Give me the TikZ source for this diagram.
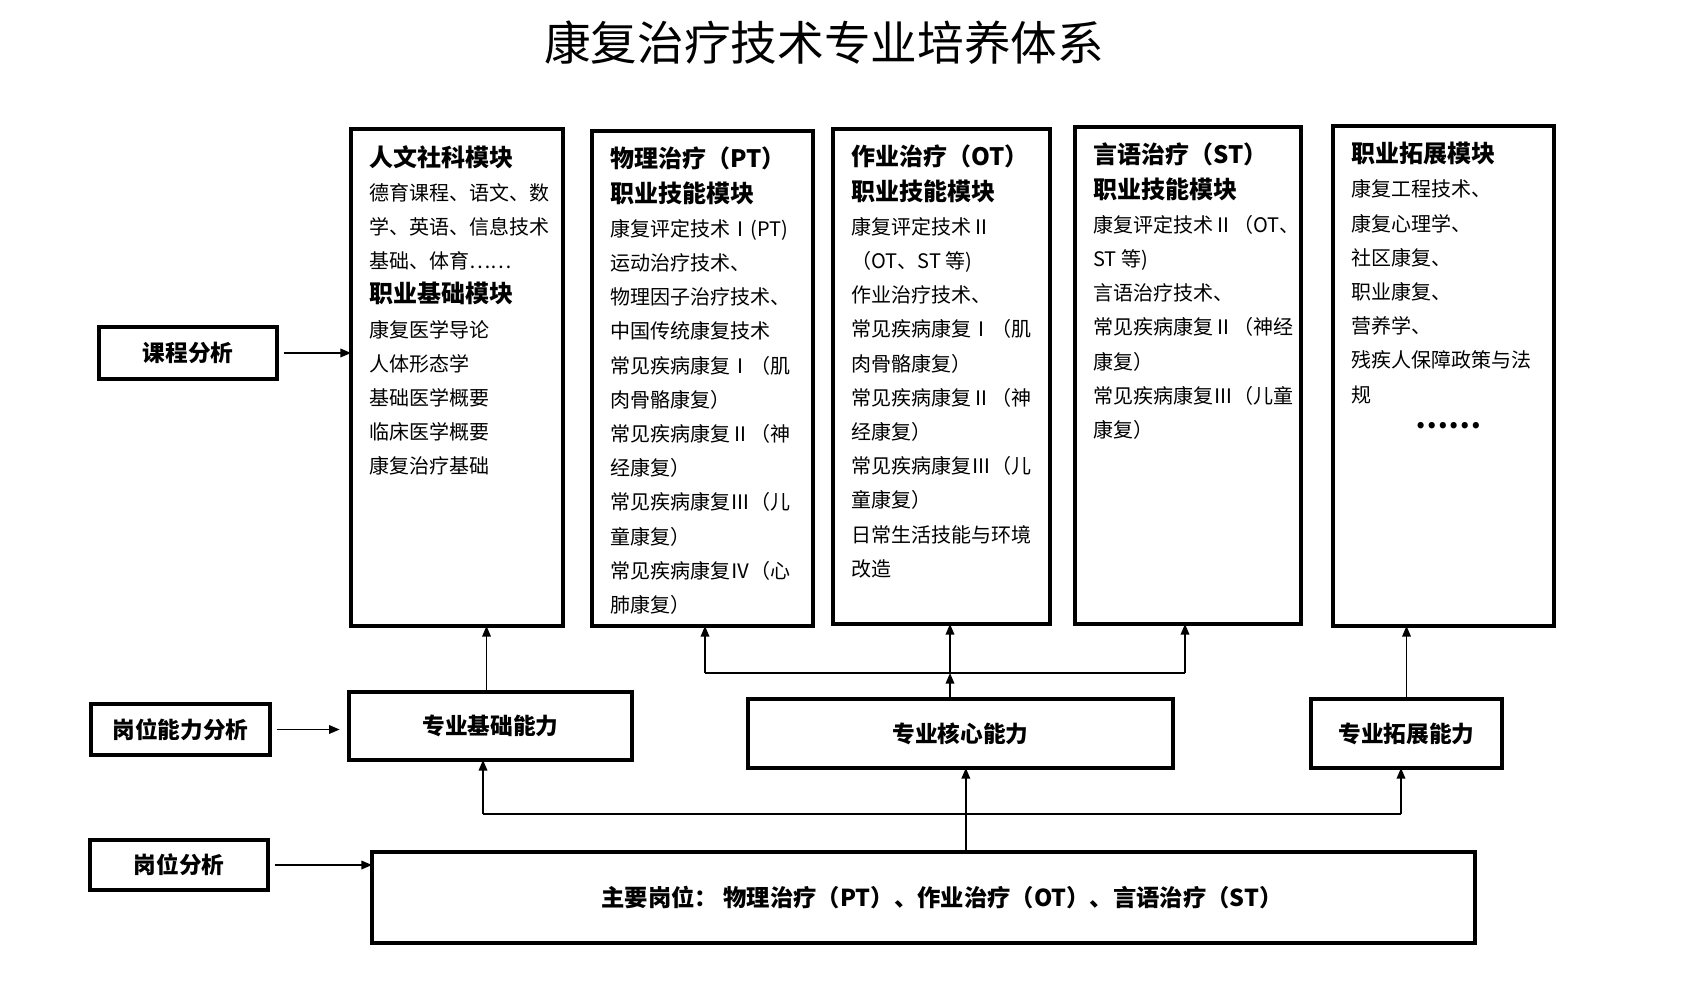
\documentclass[tikz,border=0pt]{standalone}
\usepackage{fontspec}
\setmainfont{Noto Sans CJK SC}
\usetikzlibrary{fit, arrows.meta}

\newcommand{\bodyfont}{\fontsize{15}{25.65}\selectfont}
\newcommand{\headfont}{\fontsize{18}{25.65}\selectfont\bfseries}
\newcommand{\hd}[1]{{\headfont #1}}

\tikzset{
	boxframe/.style={draw, line width=3pt, inner sep=0pt, outer sep=0pt},
	modtext/.style={anchor=north west, align=left, inner sep=0pt, font=\bodyfont},
	boxlabel/.style={font=\fontsize{17}{20}\selectfont\bfseries, text height=15pt, text depth=2pt, inner sep=0pt},
	conn/.style={line width=1.1pt, -{Triangle[length=8pt, width=6.5pt]}},
	bus/.style={line width=1.1pt},
}

% one module: frame from (x1,y1) to (x2,y2), text in the top left corner
\newcommand{\drawModule}[6]{
	\node[boxframe, fit={(#2,#3) (#4,#5)}] (#1) {};
	\node[modtext] (#1text) at ({#2+18},{#3+16}) {#6};
}
% a plain box with its label in the middle
\newcommand{\drawBox}[6]{
	\node[boxframe, fit={(#2,#3) (#4,#5)}] (#1) {};
	\node[boxlabel] (#1label) at (#1.center) {#6};
}

\begin{document}
\begin{tikzpicture}[x=0.75pt, y=-0.75pt]
	\useasboundingbox (0,0) rectangle (1692,984);

	\node[font=\fontsize{35}{40}\selectfont] (title) at (824,43) {康复治疗技术专业培养体系};

	% the five modules on top
	\drawModule{hum}{351}{129}{563}{626}{\hd{人文社科模块}\\德育课程、语文、数\\学、英语、信息技术\\基础、体育……\\\hd{职业基础模块}\\康复医学导论\\人体形态学\\基础医学概要\\临床医学概要\\康复治疗基础}
	\drawModule{pt}{592}{131}{813}{626}{\hd{物理治疗（PT）}\\\hd{职业技能模块}\\康复评定技术Ⅰ(PT)\\运动治疗技术、\\物理因子治疗技术、\\中国传统康复技术\\常见疾病康复Ⅰ（肌\\肉骨骼康复）\\常见疾病康复Ⅱ（神\\经康复）\\常见疾病康复Ⅲ（儿\\童康复）\\常见疾病康复Ⅳ（心\\肺康复）}
	\drawModule{ot}{833}{129}{1050}{624}{\hd{作业治疗（OT）}\\\hd{职业技能模块}\\康复评定技术Ⅱ\\（OT、ST 等)\\作业治疗技术、\\常见疾病康复Ⅰ（肌\\肉骨骼康复）\\常见疾病康复Ⅱ（神\\经康复）\\常见疾病康复Ⅲ（儿\\童康复）\\日常生活技能与环境\\改造}
	\drawModule{st}{1075}{127}{1301}{624}{\hd{言语治疗（ST）}\\\hd{职业技能模块}\\康复评定技术Ⅱ（OT、\\ST 等)\\言语治疗技术、\\常见疾病康复Ⅱ（神经\\康复）\\常见疾病康复Ⅲ（儿童\\康复）}
	\drawModule{extm}{1333}{126}{1554}{626}{\hd{职业拓展模块}\\康复工程技术、\\康复心理学、\\社区康复、\\职业康复、\\营养学、\\残疾人保障政策与法\\规}
	\node[font=\fontsize{22}{24}\selectfont\bfseries] (dots) at (1448,426) {……};

	% left column
	\drawBox{course}{99}{327}{277}{379}{课程分析}
	\drawBox{abil}{91}{704}{270}{755}{岗位能力分析}
	\drawBox{post}{90}{840}{268}{890}{岗位分析}

	% abilities and posts
	\drawBox{base}{349}{692}{632}{760}{专业基础能力}
	\drawBox{core}{748}{699}{1173}{768}{专业核心能力}
	\drawBox{ext}{1311}{699}{1502}{768}{专业拓展能力}
	\node[boxframe, fit={(372,852) (1475,943)}] (main) {};
	\node[boxlabel, font=\fontsize{17.5}{20}\selectfont\bfseries] (maintext) at (942,898) {主要岗位： 物理治疗（PT）、作业治疗（OT）、言语治疗（ST）};

	\draw[conn] ([xshift=5]course.east) -- (course.east -| hum.west);
	\draw[conn] ([xshift=5]abil.east) -- ([xshift=-7]abil.east -| base.west);
	\draw[conn] ([xshift=5]post.east) -- (post.east -| main.west);

	\draw[conn] ([xshift=-3]base.north) -- ([xshift=-3]base.north |- hum.south);

	\coordinate (busl) at (705,673);
	\coordinate (busm) at (950,673);
	\coordinate (busr) at (1185,673);
	\draw[bus] (busl) -- (busr);
	\draw[conn] (busl) -- (busl |- pt.south);
	\draw[conn] (busm) -- (busm |- ot.south);
	\draw[conn] (busr) -- (busr |- st.south);
	\draw[conn] (core.north -| busm) -- (busm);

	\draw[conn] (ext.north) -- (ext.north |- extm.south);

	\coordinate (lowl) at (483,814);
	\coordinate (lowr) at (1401,814);
	\draw[bus] (lowl) -- (lowr);
	\draw[conn] (lowl) -- (lowl |- base.south);
	\draw[conn] (lowr) -- (lowr |- ext.south);
	\draw[conn] ([xshift=4]core.south |- main.north) -- ([xshift=4]core.south);

\end{tikzpicture}
\end{document}
